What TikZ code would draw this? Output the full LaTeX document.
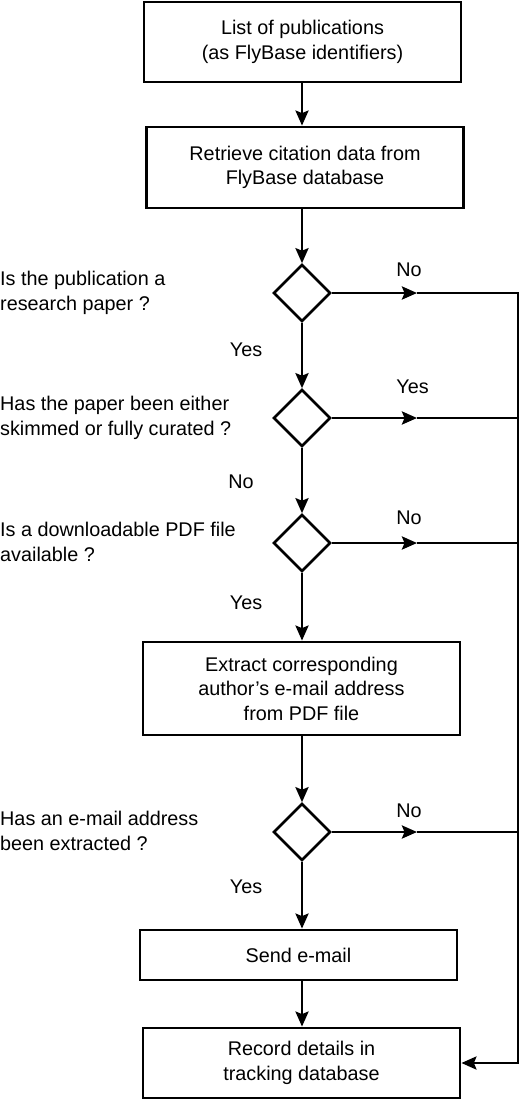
\documentclass[tikz,border=0pt]{standalone}
\usepackage{fontspec}
\setmainfont{Liberation Sans}
\usetikzlibrary{arrows.meta,shapes.geometric}
\begin{document}
\begin{tikzpicture}[x=1pt,y=-1pt,
  font=\fontsize{19.8}{24.5}\selectfont,
  procbox/.style={draw, line width=2.8pt, inner sep=0pt, align=center, minimum width=317pt},
  decision/.style={draw, diamond, aspect=1, line width=2.6pt, inner sep=0pt, minimum width=57pt, minimum height=57pt},
  question/.style={anchor=west, align=left, inner sep=0pt},
  lbl/.style={anchor=base, inner sep=0pt},
  flow/.style={line width=2.7pt, -{Stealth[length=15pt,width=13pt,inset=2.5pt]}},
  plain/.style={line width=2.7pt}
]
\fill[white] (0,0) rectangle (520,1100);
\useasboundingbox (0,0) rectangle (520,1100);

\node[procbox, minimum height=80pt] (b1) at (302.5,42) {List of publications\\(as FlyBase identifiers)};
\node[procbox, minimum height=81pt] (b2) at (305,167.5) {Retrieve citation data from\\FlyBase database};
\node[decision] (d1) at (302,293) {};
\node[decision] (d2) at (302,418) {};
\node[decision] (d3) at (302,543) {};
\node[procbox, minimum height=93pt] (b3) at (301.5,688.5) {Extract corresponding\\author's e-mail address\\from PDF file};
\node[decision] (d4) at (302,832) {};
\node[procbox, minimum height=50pt] (b4) at (298.5,955) {Send e-mail};
\node[procbox, minimum height=70pt] (b5) at (301.5,1063) {Record details in\\tracking database};

\node[question] (q1) at (0,293) {Is the publication a\\research paper ?};
\node[question] (q2) at (0,418) {Has the paper been either\\skimmed or fully curated ?};
\node[question] (q3) at (0,542) {Is a downloadable PDF file\\available ?};
\node[question] (q4) at (0,831) {Has an e-mail address\\been extracted ?};

\coordinate (m1) at (417,293); \coordinate (r1) at (518,293);
\coordinate (m2) at (417,418); \coordinate (r2) at (518,418);
\coordinate (m3) at (417,543); \coordinate (r3) at (518,543);
\coordinate (m4) at (417,832); \coordinate (r4) at (518,832);
\coordinate (rb) at (518,1063);

\draw[flow] (b1.south -| d1.north) -- (d1.north |- b2.north);
\draw[flow] (d1.north |- b2.south) -- (d1.north);
\draw[flow] (d1.south) -- (d2.north);
\draw[flow] (d2.south) -- (d3.north);
\draw[flow] (d3.south) -- (d3.south |- b3.north);
\draw[flow] (b3.south -| d4.north) -- (d4.north);
\draw[flow] (d4.south) -- (d4.south |- b4.north);
\draw[flow] (d4.south |- b4.south) -- (d4.south |- b5.north);

\draw[flow] (d1.east) -- (m1);
\draw[flow] (m1) -- (r1) -- (rb) -- (b5.east);
\draw[flow] (d2.east) -- (m2);
\draw[plain] (m2) -- (r2);
\draw[flow] (d3.east) -- (m3);
\draw[plain] (m3) -- (r3);
\draw[flow] (d4.east) -- (m4);
\draw[plain] (m4) -- (r4);

\node[lbl] (l1) at (409,276) {No};
\node[lbl] (l2) at (412.5,393) {Yes};
\node[lbl] (l3) at (409,524) {No};
\node[lbl] (l4) at (409,817) {No};
\node[lbl] (y1) at (246,356) {Yes};
\node[lbl] (n2) at (241,488) {No};
\node[lbl] (y3) at (246,609) {Yes};
\node[lbl] (y4) at (246,893) {Yes};
\end{tikzpicture}
\end{document}
